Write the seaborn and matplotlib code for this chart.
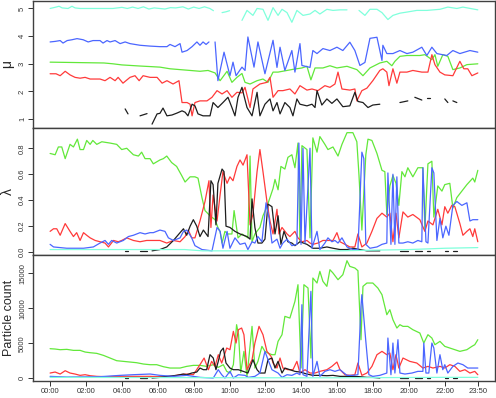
import matplotlib
matplotlib.use("Agg")
import matplotlib.pyplot as plt
import pandas as pd
import seaborn as sns

sns.set_style("white")
plt.rcParams["font.family"] = ["Liberation Sans", "DejaVu Sans"]

# ---------------- data (time in hours, value) ; None = gap ----------------
MU_CYAN = [(0,5.0),(0.33,5.05),(0.5,5.08),(0.67,5.02),(1.0,5.0),(1.22,5.08),(1.39,5.02),(1.67,5.0),(2.0,5.0),(2.5,5.0),(3.0,5.0),(3.5,5.0),(4.0,5.04),(4.3,5.0),(4.6,5.05),(4.9,5.0),(5.2,5.06),(5.5,4.98),(5.8,5.02),(6.1,5.0),(6.4,4.98),(6.7,5.03),(7.0,5.02),(7.4,5.06),(7.7,4.98),(8.0,5.05),(8.3,5.0),(8.6,5.06),(8.9,5.0),(9.1,4.92),None,(9.58,4.85),(9.8,4.88),(10.0,4.92),None,(10.69,4.57),(10.97,4.93),(11.3,4.75),(11.53,5.0),(11.86,4.97),(12.14,4.57),(12.42,5.03),(12.7,4.75),(12.92,4.97),(13.2,4.85),(13.47,4.5),(13.75,4.93),(14.09,4.75),(14.48,4.8),(14.76,4.93),(15.03,4.8),(15.42,4.97),(15.76,4.93),(16.15,4.95),(16.54,4.95),None,(17.21,4.93),(17.54,4.75),(17.82,4.97),(18.21,4.97),(18.49,4.85),(18.82,4.6),(19.1,4.75),(19.49,4.83),(19.88,4.87),(20.43,4.93),(20.99,4.93),(21.72,4.97),(22.16,5.05),(22.66,5.0),(23.0,5.05),(23.83,4.95)]
MU_BLUE = [(0,3.79),(0.28,3.81),(0.56,3.84),(0.72,3.75),(0.95,3.84),(1.22,3.87),(1.5,3.91),(1.84,3.87),(2.12,3.79),(2.39,3.84),(2.78,3.84),(2.95,3.75),(3.17,3.84),(3.34,3.79),(3.62,3.84),(3.9,3.73),(4.18,3.79),(4.45,3.73),(5.01,3.67),(5.57,3.64),(6.12,3.62),(6.51,3.62),(6.68,3.7),(6.96,3.62),(7.24,3.73),(7.35,3.42),(7.63,3.48),(7.91,3.62),(8.18,3.79),(8.35,3.67),(8.52,3.79),(8.69,3.7),(8.85,3.79),None,(9.19,3.79),(9.35,2.39),(9.69,3.42),(10.02,2.57),(10.19,3.06),(10.36,2.57),(10.69,2.88),(10.86,2.76),(11.02,3.97),(11.36,2.88),(11.58,3.79),(11.97,2.64),(12.42,3.85),(12.64,2.87),(12.81,3.6),(13.08,2.76),(13.47,3.48),(13.64,2.7),(13.92,3.73),(14.03,2.94),(14.48,2.87),(14.64,3.48),(14.87,3.37),(15.2,3.55),(15.59,3.48),(15.98,3.6),(16.31,3.48),(16.7,3.78),(16.98,3.48),(17.26,2.94),(17.54,3.05),(17.82,3.92),(18.21,3.96),(18.49,3.12),(18.54,3.67),(18.76,3.37),(19.1,3.37),(19.49,3.48),(19.88,3.37),(20.21,3.42),(20.71,3.6),(20.99,3.3),(21.27,3.6),(21.55,3.37),(22.1,3.3),(22.44,3.48),(22.83,3.37),(23.39,3.48),(23.83,3.42)]
MU_GREEN = [(0,3.06),(1.0,3.05),(2.0,3.04),(3.0,3.03),(3.5,3.0),(4.0,2.96),(4.5,2.94),(5.0,2.92),(5.57,2.9),(6.12,2.88),(6.68,2.82),(7.24,2.79),(7.8,2.76),(8.35,2.73),(8.8,2.76),(9.19,2.67),(9.47,2.39),(9.86,2.73),(10.13,2.33),(10.41,2.51),(10.69,2.65),(10.86,2.33),(11.14,2.27),(11.53,2.39),(11.86,2.45),(12.14,2.33),(12.42,2.7),(12.7,2.7),(13.2,2.76),(13.53,2.8),(14.03,2.85),(14.31,2.91),(14.53,2.42),(14.76,2.85),(15.2,2.85),(15.59,2.93),(15.98,2.85),(16.54,2.91),(17.09,2.79),(17.43,2.57),(17.82,2.85),(18.37,3.03),(18.76,3.09),(19.04,2.93),(19.21,3.09),(19.49,3.27),(19.88,3.3),(20.6,3.3),(20.88,3.33),(21.27,3.15),(21.44,3.33),(21.6,2.91),(21.88,3.33),(22.16,3.27),(22.44,2.79),(22.83,2.85),(23.22,2.97),(23.83,3.0)]
MU_RED = [(0,2.64),(0.33,2.64),(0.56,2.57),(0.84,2.73),(1.11,2.6),(1.39,2.51),(1.67,2.48),(1.95,2.51),(2.23,2.45),(2.51,2.45),(2.78,2.45),(3.06,2.39),(3.34,2.51),(3.62,2.39),(3.79,2.51),(4.06,2.3),(4.45,2.51),(4.73,2.57),(4.96,2.39),(5.18,2.57),(5.57,2.51),(5.96,2.51),(6.24,2.3),(6.51,2.39),(6.85,2.27),(7.18,2.39),(7.35,1.6),(7.63,1.6),(7.8,1.54),(7.91,1.12),(8.07,1.6),(8.35,1.66),(8.74,1.66),(9.02,1.79),(9.3,2.03),(9.58,1.91),(9.86,2.03),(10.13,1.79),(10.41,1.97),(10.69,1.95),(10.86,2.15),(11.14,1.42),(11.3,2.09),(11.69,2.27),(12.08,2.33),(12.25,2.51),(12.42,1.79),(12.7,2.03),(12.97,2.03),(13.36,2.09),(13.64,1.91),(13.92,2.21),(14.31,2.05),(14.59,2.09),(14.92,2.03),(15.31,2.21),(15.59,2.15),(15.87,2.27),(16.04,2.7),(16.26,2.09),(16.7,2.05),(16.98,2.09),(17.09,1.66),(17.37,2.03),(17.65,2.12),(17.98,2.39),(18.37,2.76),(18.54,2.82),(18.76,2.7),(18.88,2.21),(19.1,2.82),(19.32,2.3),(19.49,2.7),(19.88,2.7),(20.21,2.76),(20.71,2.7),(21.05,2.7),(21.27,3.33),(21.44,2.97),(21.72,2.7),(21.99,2.6),(22.44,2.57),(22.83,3.09),(23.05,2.82),(23.27,2.82),(23.5,2.57),(23.83,2.67)]
MU_BLACK = [(4.18,1.37),(4.34,1.19),None,(5.01,1.12),(5.4,1.2),None,(5.68,0.82),(5.96,1.19),(6.12,1.21),(6.29,1.4),(6.51,1.12),(6.79,1.15),(7.07,1.22),(7.35,1.3),(7.52,1.25),(7.68,1.12),(7.91,1.54),(8.07,1.48),(8.24,1.19),(8.52,1.12),(8.91,1.12),(9.08,1.6),(9.35,1.42),(9.63,1.6),(9.91,1.79),(10.13,1.42),(10.3,1.12),(10.47,1.79),(10.69,2.15),(10.8,1.85),(10.97,1.42),(11.25,1.12),(11.53,1.97),(11.69,1.12),(11.97,1.54),(12.25,1.73),(12.42,1.3),(12.64,1.6),(12.81,1.19),(13.08,1.6),(13.36,1.42),(13.53,1.12),(13.75,1.73),(13.92,1.54),(14.31,1.48),(14.59,1.54),(14.76,1.42),(14.87,2.03),(15.14,1.51),(15.42,1.73),(15.7,1.57),(15.98,1.73),(16.31,1.45),(16.7,1.48),(16.98,1.97),(17.15,1.64),(17.43,1.6),(17.71,1.42),(17.98,1.51),(18.37,1.54),None,(19.49,1.6),(19.93,1.66),None,(20.32,1.79),(20.71,1.69),None,(20.99,1.76),(21.16,1.76),None,(21.99,1.73),(22.16,1.6),None,(22.44,1.66),(22.66,1.6)]

LAM_GREEN = [(0,0.76),(0.28,0.75),(0.46,0.81),(0.65,0.81),(0.84,0.72),(1.11,0.83),(1.3,0.81),(1.52,0.87),(1.67,0.79),(1.86,0.79),(2.04,0.86),(2.23,0.83),(2.38,0.86),(2.6,0.83),(2.88,0.85),(3.34,0.84),(3.71,0.83),(3.99,0.79),(4.27,0.8),(4.64,0.75),(4.92,0.74),(5.1,0.77),(5.29,0.72),(5.57,0.72),(5.75,0.68),(6.12,0.71),(6.31,0.72),(6.5,0.74),(6.77,0.69),(7.05,0.66),(7.33,0.59),(7.52,0.54),(7.8,0.58),(8.07,0.58),(8.24,0.57),(8.46,0.42),(8.63,0.32),(8.91,0.28),(9.19,0.25),(9.35,0.19),(9.47,0.16),(9.58,0.07),(9.74,0.16),(9.91,0.14),(10.13,0.14),(10.25,0.32),(10.47,0.11),(10.69,0.14),(11.02,0.11),(11.14,0.74),(11.25,0.08),(11.41,0.14),(11.69,0.19),(11.86,0.28),(12.08,0.35),(12.25,0.42),(12.42,0.49),(12.53,0.56),(12.7,0.48),(12.86,0.66),(13.08,0.64),(13.25,0.73),(13.47,0.75),(13.64,0.65),(13.81,0.84),(13.92,0.08),(14.03,0.82),(14.31,0.79),(14.48,0.11),(14.64,0.88),(14.87,0.77),(15.03,0.89),(15.31,0.83),(15.48,0.79),(15.76,0.81),(16.04,0.74),(16.26,0.83),(16.54,0.92),(16.87,0.92),(17.09,0.85),(17.21,0.59),(17.37,0.17),(17.59,0.75),(17.71,0.87),(17.93,0.86),(18.21,0.76),(18.49,0.63),(18.65,0.62),(18.76,0.29),(18.93,0.51),(19.1,0.59),(19.27,0.53),(19.43,0.36),(19.6,0.62),(19.77,0.58),(19.93,0.65),(20.21,0.58),(20.49,0.65),(20.77,0.65),(20.88,0.18),(21.05,0.68),(21.27,0.7),(21.38,0.27),(21.6,0.51),(21.83,0.47),(21.99,0.52),(22.27,0.53),(22.44,0.34),(22.66,0.42),(22.94,0.47),(23.22,0.52),(23.55,0.57),(23.66,0.54),(23.83,0.63)]
LAM_RED = [(0,0.16),(0.19,0.18),(0.37,0.18),(0.56,0.13),(0.84,0.22),(1.11,0.16),(1.3,0.12),(1.48,0.15),(1.67,0.09),(1.86,0.15),(2.04,0.13),(2.23,0.11),(2.51,0.09),(2.78,0.08),(3.06,0.07),(3.25,0.04),(3.53,0.09),(3.8,0.08),(3.99,0.09),(4.27,0.11),(4.64,0.09),(5.01,0.08),(5.38,0.09),(5.75,0.09),(6.12,0.09),(6.5,0.07),(6.87,0.09),(7.24,0.08),(7.52,0.12),(7.7,0.17),(7.89,0.11),(8.07,0.11),(8.35,0.24),(8.63,0.39),(8.85,0.55),(8.96,0.19),(9.08,0.44),(9.3,0.24),(9.47,0.44),(9.63,0.62),(9.86,0.53),(10.02,0.58),(10.19,0.55),(10.41,0.66),(10.58,0.71),(10.75,0.67),(10.97,0.75),(11.14,0.21),(11.3,0.29),(11.53,0.62),(11.69,0.79),(11.86,0.62),(12.08,0.39),(12.25,0.24),(12.42,0.14),(12.64,0.33),(12.75,0.14),(12.92,0.19),(13.2,0.14),(13.36,0.12),(13.64,0.16),(13.81,0.11),(14.03,0.08),(14.31,0.09),(14.48,0.07),(14.64,0.06),(14.92,0.07),(15.2,0.09),(15.48,0.09),(15.76,0.09),(15.98,0.15),(16.15,0.08),(16.43,0.06),(16.7,0.04),(16.98,0.04),(17.15,0.14),(17.37,0.04),(17.65,0.07),(17.93,0.16),(18.21,0.26),(18.49,0.3),(18.76,0.27),(18.93,0.3),(19.1,0.08),(19.27,0.3),(19.43,0.11),(19.66,0.31),(19.93,0.27),(20.21,0.29),(20.6,0.25),(20.88,0.16),(21.05,0.24),(21.33,0.21),(21.6,0.33),(21.83,0.21),(21.99,0.35),(22.16,0.3),(22.38,0.36),(22.55,0.35),(22.83,0.22),(23.0,0.13),(23.22,0.16),(23.39,0.18),(23.55,0.12),(23.66,0.18),(23.83,0.08)]
LAM_BLACK = [(4.18,0.005),(4.34,0.005),None,(5.01,0.005),(5.4,0.005),None,(5.68,0.01),(6.12,0.02),(6.5,0.04),(6.87,0.09),(7.24,0.15),(7.43,0.18),(7.61,0.13),(7.8,0.2),(7.98,0.25),(8.17,0.2),(8.35,0.12),(8.54,0.17),(8.8,0.12),(8.96,0.55),(9.08,0.52),(9.24,0.21),(9.35,0.53),(9.58,0.64),(9.69,0.62),(9.8,0.2),(10.02,0.19),(10.3,0.16),(10.58,0.14),(10.97,0.12),(11.14,0.1),(11.25,0.41),(11.41,0.19),(11.58,0.07),(11.8,0.07),(11.97,0.1),(12.14,0.37),(12.36,0.35),(12.53,0.14),(12.7,0.28),(12.86,0.06),(13.03,0.16),(13.25,0.08),(13.47,0.07),(13.64,0.05),(13.92,0.08),(14.31,0.06),(14.64,0.03),(15.03,0.03),(15.42,0.04),(15.76,0.03),(16.15,0.02),(16.54,0.02),(16.87,0.03),(17.26,0.02),(17.65,0.01),(18.37,0.01),None,(19.49,0.005),(19.93,0.005),None,(20.32,0.005),(20.71,0.005),None,(20.99,0.005),(21.16,0.005),None,(21.99,0.005),(22.16,0.005),None,(22.44,0.005),(22.66,0.005)]
LAM_BLUE = [(0,0.06),(0.19,0.04),(0.93,0.03),(1.86,0.03),(2.41,0.04),(2.78,0.07),(3.06,0.09),(3.25,0.06),(3.43,0.09),(3.71,0.07),(4.08,0.09),(4.36,0.12),(4.64,0.13),(5.01,0.15),(5.29,0.14),(5.57,0.15),(5.75,0.15),(6.12,0.17),(6.4,0.16),(6.59,0.11),(6.87,0.09),(7.24,0.11),(7.43,0.16),(7.61,0.17),(7.89,0.11),(8.07,0.05),(8.46,0.02),(9.02,0.01),(9.3,0.19),(9.47,0.16),(9.63,0.03),(9.86,0.16),(10.02,0.03),(10.3,0.11),(10.58,0.06),(10.86,0.07),(11.02,0.02),(11.25,0.08),(11.41,0.07),(11.58,0.12),(11.8,0.08),(12.03,0.38),(12.2,0.26),(12.36,0.07),(12.64,0.1),(12.81,0.03),(12.97,0.07),(13.2,0.1),(13.47,0.05),(13.75,0.06),(13.86,0.84),(13.98,0.06),(14.09,0.8),(14.2,0.07),(14.48,0.8),(14.59,0.03),(14.87,0.16),(15.03,0.02),(15.31,0.07),(15.48,0.11),(15.7,0.08),(15.87,0.09),(16.04,0.07),(16.26,0.11),(16.54,0.04),(16.87,0.02),(17.15,0.02),(17.37,0.77),(17.48,0.72),(17.59,0.06),(17.82,0.03),(18.21,0.04),(18.49,0.06),(18.76,0.07),(18.82,0.61),(18.99,0.06),(19.1,0.6),(19.21,0.06),(19.32,0.58),(19.43,0.07),(19.66,0.07),(19.93,0.08),(20.21,0.07),(20.49,0.09),(20.71,0.08),(20.77,0.65),(20.94,0.08),(21.05,0.07),(21.27,0.65),(21.38,0.61),(21.55,0.09),(21.72,0.26),(21.88,0.11),(22.05,0.2),(22.22,0.13),(22.44,0.36),(22.66,0.39),(22.94,0.36),(23.22,0.38),(23.39,0.24),(23.55,0.25),(23.83,0.25)]
LAM_CYAN = [(0,0.02),(2,0.02),(4,0.02),(6,0.02),(7.5,0.02),(8.5,0.01),(10,0.01),(12,0.01),(14,0.01),(16,0.01),(18,0.015),(20,0.02),(22,0.03),(23.83,0.035)]

CNT_GREEN = [(0,4215),(0.28,4167),(0.56,4072),(0.93,4120),(1.3,3976),(1.67,3976),(1.95,3738),(2.23,3643),(2.6,3548),(2.97,3262),(3.34,2881),(3.71,2500),(4.08,2405),(4.45,2310),(4.82,2214),(5.2,2024),(5.57,1929),(5.94,1929),(6.31,1643),(6.68,1452),(7.24,1452),(7.61,1690),(7.98,1833),(8.35,1833),(8.72,1690),(9.09,1929),(9.37,1548),(9.65,1929),(9.84,976),(10.02,738),(10.21,1929),(10.39,7643),(10.5,6214),(10.62,800),(10.8,3833),(10.97,262),(11.25,7405),(11.41,1452),(11.58,2405),(11.8,4548),(11.97,3833),(12.14,3595),(12.36,3357),(12.53,3357),(12.7,5262),(12.92,6214),(13.08,8833),(13.36,8595),(13.64,10976),(13.81,13357),(13.98,1452),(14.14,13357),(14.37,12881),(14.53,2881),(14.64,14310),(14.87,13595),(15.03,15262),(15.2,13833),(15.42,13119),(15.59,15500),(15.76,15024),(16.04,14071),(16.31,14786),(16.54,16786),(16.7,15976),(16.98,15738),(17.15,15357),(17.32,5500),(17.43,13119),(17.65,13595),(17.98,13595),(18.26,12881),(18.49,11929),(18.76,9071),(18.93,9786),(19.1,8357),(19.32,7167),(19.49,7643),(19.66,7405),(19.93,7405),(20.21,6929),(20.6,6452),(20.82,5024),(21.05,6214),(21.27,5738),(21.44,4786),(21.72,5262),(21.99,4548),(22.27,4310),(22.55,4072),(22.83,3833),(23.22,4072),(23.5,4548),(23.66,4786),(23.83,5500)]
CNT_RED = [(0,738),(0.28,881),(0.56,595),(0.84,1071),(1.11,738),(1.39,595),(1.67,405),(1.95,500),(2.23,357),(2.6,262),(3.16,214),(3.71,262),(4.64,262),(5.57,262),(6.5,167),(7.24,500),(7.61,595),(7.98,500),(8.35,1929),(8.58,2881),(8.82,1214),(9.0,2405),(9.19,1690),(9.37,3357),(9.56,2167),(9.84,4310),(10.02,4072),(10.21,6690),(10.36,5024),(10.49,6929),(10.67,7167),(10.8,6214),(10.97,1214),(11.25,2643),(11.41,5024),(11.64,7405),(11.86,6214),(12.08,3833),(12.31,3119),(12.42,2167),(12.64,1452),(12.81,2881),(12.97,1452),(13.25,1214),(13.53,1214),(13.75,2405),(13.92,738),(14.2,1214),(14.48,738),(14.76,738),(15.03,976),(15.42,1214),(15.7,1690),(15.98,2310),(16.15,1214),(16.43,500),(16.7,405),(16.98,500),(17.15,2167),(17.37,405),(17.65,738),(17.93,1690),(18.21,3357),(18.49,3833),(18.76,3357),(18.93,3595),(19.1,1214),(19.27,3357),(19.43,1452),(19.66,2881),(20.04,2405),(20.43,2167),(20.77,1452),(21.05,1690),(21.33,1452),(21.72,1690),(21.99,1452),(22.27,1929),(22.55,1690),(22.83,976),(23.11,1214),(23.39,738),(23.66,976),(23.83,500)]
CNT_BLACK = [(4.18,60),(4.34,60),None,(5.01,60),(5.4,60),None,(5.68,24),(6.12,119),(6.5,262),(7.05,405),(7.42,595),(7.61,500),(7.89,738),(8.17,881),(8.35,1452),(8.54,1214),(8.72,1214),(8.91,3357),(9.09,2881),(9.24,1214),(9.37,2405),(9.5,3833),(9.65,4310),(9.8,2167),(10.02,1452),(10.21,1214),(10.49,1214),(10.76,976),(11.02,738),(11.3,2643),(11.53,1214),(11.69,738),(11.97,738),(12.14,2643),(12.36,2881),(12.53,1452),(12.7,2405),(12.92,738),(13.08,1452),(13.36,1214),(13.64,976),(13.92,881),(14.31,595),(14.64,405),(15.03,405),(15.42,357),(15.76,405),(16.15,262),(16.54,262),(16.87,262),(17.26,214),(17.65,119),(17.98,119),(18.37,24),None,(19.49,60),(19.93,60),None,(20.32,60),(20.71,60),None,(20.99,60),(21.16,60),None,(21.99,60),(22.16,60),None,(22.44,60),(22.66,60)]
CNT_BLUE = [(0,262),(0.93,167),(2.78,214),(3.9,405),(4.64,500),(5.57,595),(6.12,405),(6.87,262),(7.61,405),(8.35,119),(9.09,24),(9.37,1214),(9.56,500),(9.74,24),(10.02,976),(10.21,24),(10.49,500),(10.86,405),(11.04,119),(11.41,262),(11.69,738),(11.97,3833),(12.14,2643),(12.36,1214),(12.53,976),(12.7,738),(12.92,119),(13.2,500),(13.47,405),(13.75,738),(13.92,500),(14.03,10500),(14.09,500),(14.31,262),(14.53,12405),(14.64,262),(14.87,2405),(15.03,262),(15.31,976),(15.59,1214),(15.87,976),(16.15,1214),(16.54,405),(16.87,405),(17.15,500),(17.32,10262),(17.37,11929),(17.59,5262),(17.76,500),(17.98,262),(18.37,405),(18.76,738),(18.82,5738),(18.99,500),(19.1,5024),(19.21,738),(19.38,5500),(19.49,738),(19.77,595),(20.16,738),(20.49,976),(20.77,976),(20.82,5024),(20.94,738),(21.1,738),(21.27,5024),(21.38,4310),(21.55,738),(21.72,3357),(21.88,1214),(21.99,1929),(22.16,738),(22.44,1690),(22.72,2167),(23.0,1929),(23.27,1452),(23.55,1452),(23.83,1452)]
CNT_CYAN = [(0,120),(4,100),(8,80),(12,60),(16,60),(18,80),(20,100),(22,120),(23.83,120)]

X_TICKS = [0, 2, 4, 6, 8, 10, 12, 14, 16, 18, 20, 22, 23 + 50 / 60]
X_LABELS = ["00:00", "02:00", "04:00", "06:00", "08:00", "10:00", "12:00",
            "14:00", "16:00", "18:00", "20:00", "22:00", "23:50"]
MU_TICKS = [1, 2, 3, 4, 5]
LAM_TICKS = [0.0, 0.2, 0.4, 0.6, 0.8]
CNT_TICKS = [0, 5000, 10000, 15000]

ORDER = ["green", "red", "black", "blue", "cyan"]
COLORS = {"green": "#62e83a", "red": "#ff3a3a", "black": "#1e1e1e",
          "blue": "#4b66ff", "cyan": "#80ffdc"}


def frame(d):
    rows = []
    for name, pts in d.items():
        seg = 0
        for p in pts:
            if p is None:
                seg += 1
                continue
            rows.append((name, f"{name}_{seg}", p[0], p[1]))
    return pd.DataFrame(rows, columns=["series", "seg", "t", "v"])


panels = [
    ({"green": MU_GREEN, "red": MU_RED, "black": MU_BLACK, "blue": MU_BLUE, "cyan": MU_CYAN},
     "μ", (0.68, 5.27), MU_TICKS, [str(t) for t in MU_TICKS]),
    ({"green": LAM_GREEN, "red": LAM_RED, "black": LAM_BLACK, "blue": LAM_BLUE, "cyan": LAM_CYAN},
     "λ", (-0.022, 0.956), LAM_TICKS, [f"{t:.1f}" for t in LAM_TICKS]),
    ({"green": CNT_GREEN, "red": CNT_RED, "black": CNT_BLACK, "blue": CNT_BLUE, "cyan": CNT_CYAN},
     "Particle count", (-400, 17600), CNT_TICKS, [str(t) for t in CNT_TICKS]),
]

W, H = 496, 398
fig = plt.figure(figsize=(W / 100, H / 100), dpi=100)
boxes = [(1, 128), (128, 255), (255, 381)]
left, right = 33, 495

for i, ((data, ylab, ylim, yt, ytl), (top, bot)) in enumerate(zip(panels, boxes)):
    ax = fig.add_axes([left / W, 1 - bot / H, (right - left) / W, (bot - top) / H])
    df = frame(data)
    sns.lineplot(data=df, x="t", y="v", hue="series", units="seg", estimator=None,
                 hue_order=ORDER, palette=COLORS, sort=False, legend=False,
                 lw=0.9, ax=ax)
    ax.set_xlim(-0.953, 24.787)
    ax.set_ylim(*ylim)
    ax.set_yticks(yt)
    ax.set_yticklabels(ytl, rotation=90, va="center")
    ax.set_ylabel(ylab, fontsize=9 if i == 2 else 10, labelpad=0)
    ax.yaxis.set_label_coords(-0.04, 0.5)
    ax.tick_params(axis="y", direction="out", length=3.5, width=0.7,
                   colors="#333333", labelsize=5.5, pad=1.5, left=True)
    for s in ax.spines.values():
        s.set_color("#404040")
        s.set_linewidth(1.0)
        s.set_visible(True)
    if i < 2:
        ax.set_xticks([])
        ax.set_xlabel("")
    else:
        ax.set_xticks(X_TICKS)
        ax.set_xticklabels(X_LABELS)
        ax.set_xlabel("")
        ax.tick_params(axis="x", direction="out", length=3.5, width=0.7,
                       colors="#333333", labelsize=5.5, pad=1.5, bottom=True)

fig.savefig("out.png", dpi=100)
